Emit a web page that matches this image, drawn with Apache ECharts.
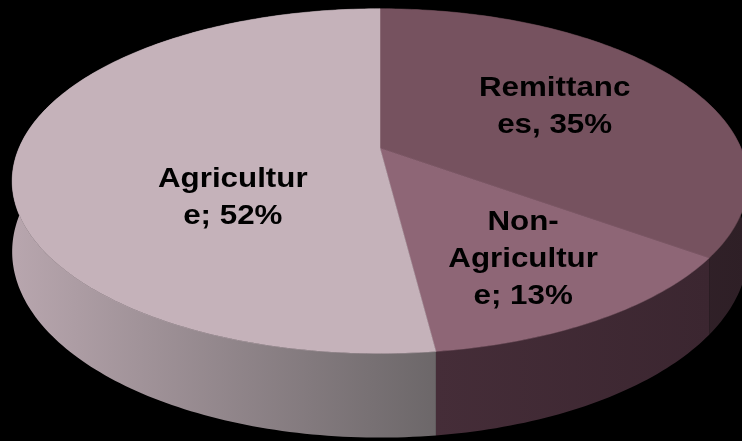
<!DOCTYPE html>
<html>
<head>
<meta charset="utf-8">
<script src="https://cdn.jsdelivr.net/npm/echarts@6/dist/echarts.min.js"></script>
<style>
  html, body { margin: 0; background: #000; }
  #chart { width: 742px; height: 441px; }
</style>
</head>
<body>
<div id="chart"></div>
<script>
// slices go clockwise from 12 o'clock
const categories = ["Remittances", "Non-Agriculture", "Agriculture"];
const shares = [35, 13, 52];
const labelTexts = ["Remittanc\nes, 35%", "Non-\nAgricultur\ne; 13%", "Agricultur\ne; 52%"];

const topColors = ["#76525f", "#8e6676", "#c5b2ba"];
const wallColors = [
  ["#3e2a33", "#2e1f26"],
  ["#452d38", "#3b2630"],
  ["#b8a6ae", "#6c6769"],
];
// label spot inside the disk: [radius fraction, angle shift from mid-angle]
const labelSpots = [[0.57, 0], [0.69, 0], [0.48, -33]];

// perspective ellipse of the disk
const cx = 380, cy = 148, B = 361, A = 166, k = 0.192, depth = 68;

const total = shares.reduce((a, b) => a + b, 0);
const starts = shares.map((_, i) => shares.slice(0, i).reduce((a, b) => a + b, 0) / total * 360);

function proj(f, deg) {
  const t = deg * Math.PI / 180;
  const w = 1 + k * f * Math.cos(t);
  return [cx + B * f * Math.sin(t) / w, cy - A * f * Math.cos(t) / w];
}
function rimDown(deg) {
  const t = deg * Math.PI / 180;
  const w = 1 + k * Math.cos(t);
  const p = proj(1, deg);
  return [p[0], p[1] + depth / w];
}
function arc(a0, a1, fn) {
  const pts = [];
  const n = Math.max(2, Math.ceil(Math.abs(a1 - a0)));
  for (let j = 0; j <= n; j++) pts.push(fn(a0 + (a1 - a0) * j / n));
  return pts;
}

const chart = echarts.init(document.getElementById("chart"));

chart.setOption({
  backgroundColor: "#000",
  animation: false,
  series: [
    {
      type: "custom",
      coordinateSystem: "none",
      z: 1,
      data: shares,
      renderItem(params) {
        const i = params.dataIndex;
        const a0 = starts[i], a1 = a0 + shares[i] / total * 360;
        const top = arc(a0, a1, (d) => proj(1, d));
        const bottom = arc(a0, a1, rimDown).reverse();
        const xs = top.concat(bottom).map((p) => p[0]);
        return {
          type: "polygon",
          shape: { points: top.concat(bottom) },
          style: {
            fill: new echarts.graphic.LinearGradient(
              Math.min(...xs), 0, Math.max(...xs), 0,
              [
                { offset: 0, color: wallColors[i][0] },
                { offset: 1, color: wallColors[i][1] },
              ],
              true
            ),
          },
        };
      },
    },
    {
      type: "custom",
      coordinateSystem: "none",
      z: 2,
      data: shares,
      renderItem(params) {
        const i = params.dataIndex;
        const a0 = starts[i], a1 = a0 + shares[i] / total * 360;
        const pts = [proj(0, 0)].concat(arc(a0, a1, (d) => proj(1, d)));
        const spot = proj(labelSpots[i][0], (a0 + a1) / 2 + labelSpots[i][1]);
        return {
          type: "group",
          children: [
            {
              type: "polygon",
              shape: { points: pts },
              style: { fill: topColors[i], stroke: topColors[i], lineWidth: 0.5 },
            },
            {
              type: "text",
              x: spot[0],
              y: spot[1],
              scaleX: 1.16,
              z2: 10,
              style: {
                text: labelTexts[i],
                fill: "#000",
                fontFamily: "Liberation Sans",
                fontWeight: "bold",
                fontSize: 27,
                lineHeight: 37,
                align: "center",
                verticalAlign: "middle",
                textAlign: "center",
                textVerticalAlign: "middle",
              },
            },
          ],
        };
      },
    },
  ],
});
</script>
</body>
</html>
